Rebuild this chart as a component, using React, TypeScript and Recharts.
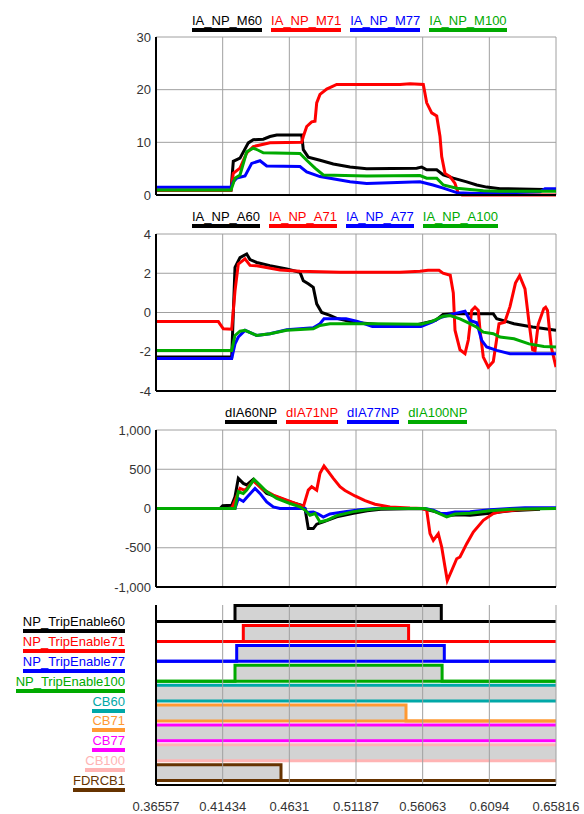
import { LineChart, Line, XAxis, YAxis, AreaChart, Area, ReferenceLine } from 'recharts';

const FONT = "'Liberation Sans', Arial, sans-serif";

// time axis shared by every panel
const X_TICKS = [0.36557, 0.41434, 0.4631, 0.51187, 0.56063, 0.6094, 0.65816];
const X_DOMAIN = [0.36557, 0.65816];

type Pt = [number, number];

// panel 1 - magnitudes
const IA_NP_M60: Pt[] = [[0.36557, 0.9], [0.42043, 0.9], [0.42211, 6.4], [0.42701, 7.0], [0.43309, 9.9], [0.43674, 10.5], [0.44406, 10.6], [0.44896, 11.1], [0.45386, 11.4], [0.47215, 11.4], [0.47332, 8.6], [0.47697, 7.2], [0.48553, 6.6], [0.49526, 5.9], [0.50748, 5.3], [0.51969, 5.0], [0.55627, 5.1], [0.55992, 5.3], [0.56358, 4.8], [0.5709, 4.8], [0.57573, 3.8], [0.58304, 3.2], [0.59284, 2.5], [0.60016, 1.9], [0.60747, 1.5], [0.6172, 1.2], [0.65816, 1.0]];
const IA_NP_M71: Pt[] = [[0.36557, 0.9], [0.42043, 0.9], [0.42211, 4.1], [0.42701, 5.1], [0.43192, 8.0], [0.43674, 9.2], [0.44896, 9.9], [0.47215, 10.0], [0.47332, 11.1], [0.4758, 13.0], [0.47946, 13.9], [0.48188, 14.0], [0.48312, 17.5], [0.48553, 19.1], [0.49043, 20.1], [0.49775, 21.0], [0.54405, 21.0], [0.55137, 21.1], [0.5611, 21.0], [0.56358, 17.5], [0.56724, 15.6], [0.5709, 15.0], [0.57331, 11.1], [0.57455, 7.3], [0.57697, 4.1], [0.58063, 3.5], [0.58428, 2.2], [0.5867, 0.3], [0.5894, 0], [0.65816, 0]];
const IA_NP_M77: Pt[] = [[0.36557, 1.47], [0.42043, 1.47], [0.42211, 2.5], [0.4246, 3.2], [0.43067, 3.6], [0.43557, 6.0], [0.44164, 6.5], [0.44655, 5.5], [0.4709, 5.4], [0.4758, 4.4], [0.48553, 3.5], [0.50748, 2.5], [0.51969, 2.2], [0.55868, 2.5], [0.56819, 1.9], [0.57573, 1.3], [0.58553, 0.45], [0.6, 0.3], [0.6172, 0.4], [0.64646, 0.6], [0.65012, 1.2], [0.65816, 1.2]];
const IA_NP_M100: Pt[] = [[0.36557, 0.96], [0.42043, 0.96], [0.42336, 3.2], [0.42701, 3.8], [0.43192, 8.2], [0.43674, 8.9], [0.4404, 8.5], [0.44406, 8.0], [0.4709, 7.9], [0.4758, 6.6], [0.48188, 5.1], [0.48795, 3.8], [0.51969, 3.6], [0.55868, 3.7], [0.56358, 3.2], [0.5709, 3.2], [0.57573, 1.9], [0.58553, 1.3], [0.60498, 0.8], [0.6172, 0.7], [0.65816, 0.7]];

// panel 2 - angles
const IA_NP_A60: Pt[] = [[0.36557, -2.27], [0.42094, -2.27], [0.42336, 2.3], [0.42701, 2.8], [0.43192, 2.98], [0.43433, 2.7], [0.43923, 2.55], [0.44896, 2.39], [0.46118, 2.22], [0.4709, 2.05], [0.47332, 1.62], [0.47697, 1.46], [0.48063, 1.28], [0.48312, 0.44], [0.48678, 0.0], [0.49285, -0.15], [0.49775, -0.3], [0.51, -0.5], [0.53, -0.62], [0.555, -0.65], [0.57, -0.4], [0.5755, -0.1], [0.58304, -0.07], [0.6123, -0.07], [0.61478, -0.32], [0.62744, -0.57], [0.64105, -0.74], [0.65816, -0.91]];
const IA_NP_A71: Pt[] = [[0.36557, -0.46], [0.41114, -0.46], [0.4148, -0.83], [0.42094, -0.85], [0.42336, 1.1], [0.42577, 2.47], [0.43067, 2.73], [0.43433, 2.4], [0.43923, 2.38], [0.45627, 2.17], [0.4709, 2.1], [0.50016, 2.05], [0.54405, 2.05], [0.55868, 2.1], [0.56453, 2.15], [0.57258, 2.15], [0.5755, 2.0], [0.5808, 1.9], [0.58304, 1.0], [0.58428, -0.9], [0.58794, -1.9], [0.5916, -2.1], [0.59401, -1.4], [0.5965, 0.1], [0.59891, 0.27], [0.60133, 0.1], [0.60257, -0.9], [0.60498, -2.27], [0.60864, -2.78], [0.6123, -2.5], [0.61647, -0.57], [0.62064, -0.5], [0.6245, 0.3], [0.6285, 1.5], [0.63154, 1.88], [0.63549, 1.2], [0.63841, -0.5], [0.64105, -1.9], [0.6428, -1.95], [0.64514, -0.6], [0.64924, 0.2], [0.65056, 0.27], [0.65195, 0.1], [0.65465, -1.76], [0.65816, -2.78]];
const IA_NP_A77: Pt[] = [[0.36557, -2.35], [0.42094, -2.35], [0.42336, -1.6], [0.42577, -1.25], [0.43067, -0.91], [0.43923, -1.17], [0.44896, -1.08], [0.46118, -0.88], [0.4709, -0.83], [0.48063, -0.78], [0.48553, -0.57], [0.48846, -0.32], [0.50456, -0.32], [0.51296, -0.45], [0.52386, -0.71], [0.55941, -0.71], [0.56746, -0.49], [0.57426, -0.24], [0.58304, -0.07], [0.5916, 0.07], [0.59525, -0.41], [0.60016, -0.52], [0.60381, -1.42], [0.60747, -1.76], [0.61478, -1.93], [0.62451, -2.1], [0.65816, -2.1]];
const IA_NP_A100: Pt[] = [[0.36557, -1.93], [0.42094, -1.93], [0.42336, -1.17], [0.42701, -0.95], [0.43067, -0.91], [0.43923, -1.17], [0.44896, -1.08], [0.46118, -0.91], [0.48063, -0.83], [0.48553, -0.66], [0.49285, -0.57], [0.52386, -0.57], [0.55941, -0.6], [0.56746, -0.45], [0.5755, -0.19], [0.58063, -0.16], [0.58794, -0.32], [0.59525, -0.57], [0.60016, -0.75], [0.60498, -1.0], [0.6123, -1.08], [0.6172, -1.25], [0.62744, -1.34], [0.63841, -1.6], [0.64924, -1.73], [0.65816, -1.76]];

// panel 3 - delta currents
const dIA60NP: Pt[] = [[0.36557, 0], [0.41238, 0], [0.41434, 35], [0.42094, 40], [0.42336, 150], [0.42577, 384], [0.42943, 320], [0.43192, 300], [0.43674, 371], [0.44164, 277], [0.44655, 192], [0.45386, 149], [0.46359, 85], [0.47215, 40], [0.47456, 0], [0.47697, -256], [0.48063, -256], [0.48312, -200], [0.48795, -171], [0.49775, -107], [0.51, -60], [0.52, -30], [0.53, -10], [0.56014, 0], [0.56965, -40], [0.57821, -90], [0.58794, -80], [0.59525, -85], [0.60988, -60], [0.62451, -30], [0.64646, -10]];
const dIA71NP: Pt[] = [[0.36557, 0], [0.42094, 0], [0.42336, 100], [0.42701, 256], [0.43067, 230], [0.43674, 353], [0.44406, 240], [0.45137, 170], [0.46118, 106], [0.4709, 42], [0.47332, 20], [0.47697, 234], [0.47946, 277], [0.48312, 234], [0.48553, 448], [0.48846, 541], [0.4916, 469], [0.49526, 384], [0.50016, 277], [0.50382, 230], [0.51113, 160], [0.51845, 100], [0.52577, 55], [0.53674, 20], [0.55137, 5], [0.56014, 0], [0.56358, -21], [0.566, -320], [0.56841, -405], [0.57207, -320], [0.57455, -490], [0.57697, -745], [0.57865, -917], [0.58187, -790], [0.58553, -640], [0.58794, -618], [0.59284, -448], [0.59767, -300], [0.60498, -150], [0.6123, -64], [0.6172, -43], [0.63, -15], [0.64646, 0]];
const dIA77NP: Pt[] = [[0.36557, 0], [0.42336, 0], [0.42577, 128], [0.42943, 90], [0.43192, 141], [0.43799, 256], [0.44164, 192], [0.44655, 85], [0.45137, 20], [0.45627, 0], [0.47456, 0], [0.4758, -50], [0.48063, -45], [0.48429, -70], [0.48795, -110], [0.49285, -70], [0.50382, -40], [0.51479, -15], [0.52577, 0], [0.56234, 0], [0.56841, -20], [0.57331, -60], [0.57821, -64], [0.58428, -45], [0.59525, -40], [0.60988, -15], [0.62451, 0], [0.63549, 10], [0.65816, 10]];
const dIA100NP: Pt[] = [[0.36557, 0], [0.42336, 0], [0.42577, 213], [0.42943, 192], [0.43192, 235], [0.43726, 371], [0.44164, 298], [0.44655, 213], [0.45386, 128], [0.46359, 64], [0.4709, 20], [0.47456, -20], [0.47822, -86], [0.48188, -64], [0.48553, -171], [0.49043, -150], [0.49775, -90], [0.51, -40], [0.52, -15], [0.53, 0], [0.56234, 0], [0.56841, -30], [0.57821, -107], [0.58428, -70], [0.59525, -60], [0.60988, -30], [0.62451, -10], [0.65816, 0]];

// digital signals (state changes)
const DIG_T = [0.36557, 0.42336, 0.4246, 0.42943, 0.457, 0.54844, 0.55034, 0.57426, 0.57485, 0.57646, 0.65816];
const NP_TripEnable60 = [0, 1, 1, 1, 1, 1, 1, 0, 0, 0, 0];
const NP_TripEnable71 = [0, 0, 0, 1, 1, 1, 0, 0, 0, 0, 0];
const NP_TripEnable77 = [0, 0, 1, 1, 1, 1, 1, 1, 1, 0, 0];
const NP_TripEnable100 = [0, 1, 1, 1, 1, 1, 1, 1, 0, 0, 0];
const CB60 = [1, 1, 1, 1, 1, 1, 1, 1, 1, 1, 1];
const CB71 = [1, 1, 1, 1, 1, 0, 0, 0, 0, 0, 0];
const CB77 = [1, 1, 1, 1, 1, 1, 1, 1, 1, 1, 1];
const CB100 = [1, 1, 1, 1, 1, 1, 1, 1, 1, 1, 1];
const FDRCB1 = [1, 1, 1, 1, 0, 0, 0, 0, 0, 0, 0];

const BLACK = '#000000';
const RED = '#ff0000';
const BLUE = '#0000ff';
const GREEN = '#00aa00';
const GRID = '#a0a0a0';

interface Series { name: string; color: string; pts: Pt[] }

const panels = [
  {
    top: 0, height: 210, mTop: 37, mBottom: 15, legendTop: 14, legendLeft: 192,
    yTicks: [0, 10, 20, 30],
    series: [
      { name: 'IA_NP_M60', color: BLACK, pts: IA_NP_M60 },
      { name: 'IA_NP_M71', color: RED, pts: IA_NP_M71 },
      { name: 'IA_NP_M77', color: BLUE, pts: IA_NP_M77 },
      { name: 'IA_NP_M100', color: GREEN, pts: IA_NP_M100 },
    ] as Series[],
  },
  {
    top: 200, height: 205, mTop: 34, mBottom: 14, legendTop: 210, legendLeft: 192,
    yTicks: [-4, -2, 0, 2, 4],
    series: [
      { name: 'IA_NP_A60', color: BLACK, pts: IA_NP_A60 },
      { name: 'IA_NP_A71', color: RED, pts: IA_NP_A71 },
      { name: 'IA_NP_A77', color: BLUE, pts: IA_NP_A77 },
      { name: 'IA_NP_A100', color: GREEN, pts: IA_NP_A100 },
    ] as Series[],
  },
  {
    top: 400, height: 200, mTop: 30, mBottom: 13, legendTop: 406, legendLeft: 225,
    yTicks: [-1000, -500, 0, 500, 1000],
    series: [
      { name: 'dIA60NP', color: BLACK, pts: dIA60NP },
      { name: 'dIA71NP', color: RED, pts: dIA71NP },
      { name: 'dIA77NP', color: BLUE, pts: dIA77NP },
      { name: 'dIA100NP', color: GREEN, pts: dIA100NP },
    ] as Series[],
  },
];

const digital = [
  { name: 'NP_TripEnable60', color: BLACK, v: NP_TripEnable60 },
  { name: 'NP_TripEnable71', color: RED, v: NP_TripEnable71 },
  { name: 'NP_TripEnable77', color: BLUE, v: NP_TripEnable77 },
  { name: 'NP_TripEnable100', color: GREEN, v: NP_TripEnable100 },
  { name: 'CB60', color: '#00a8a8', v: CB60 },
  { name: 'CB71', color: '#ff9933', v: CB71 },
  { name: 'CB77', color: '#ff00ff', v: CB77 },
  { name: 'CB100', color: '#ffb4b4', v: CB100 },
  { name: 'FDRCB1', color: '#663300', v: FDRCB1 },
];

const digitalRows = DIG_T.map((t, i) => {
  const row: Record<string, number> = { t };
  digital.forEach((s) => { row[s.name] = s.v[i]; });
  return row;
});

const toRows = (pts: Pt[]) => pts.map(([t, v]) => ({ t, v }));
const fmtNum = (v: number) => v.toLocaleString('en-US');

// digital panel geometry
const D_TOP = 605;
const D_BOTTOM = 785;
const D_MAX = 9.05;
const rowBase = (i: number) => 0.22 + (digital.length - 1 - i);
const rowPx = (val: number) => D_TOP + (D_MAX - val) * ((D_BOTTOM - D_TOP) / D_MAX);

const tickStyle = { fill: '#333', fontSize: 13, fontFamily: FONT };

function Legend({ top, left, series }: { top: number; left: number; series: Series[] }) {
  return (
    <div style={{ position: 'absolute', top, left, display: 'flex', gap: 9 }}>
      {series.map((s) => (
        <span
          key={s.name}
          style={{
            color: s.color, fontSize: 13, lineHeight: '13px', fontFamily: FONT,
            borderBottom: `4px solid ${s.color}`, paddingBottom: 1,
          }}
        >
          {s.name}
        </span>
      ))}
    </div>
  );
}

export default function App() {
  return (
    <div style={{ position: 'fixed', left: 0, top: 0, width: 584, height: 814, background: '#fff' }}>
      {panels.map((p, pi) => {
        const yMin = p.yTicks[0];
        const yMax = p.yTicks[p.yTicks.length - 1];
        return (
          <div key={pi}>
            <div style={{ position: 'absolute', left: 0, top: p.top }}>
              <LineChart width={584} height={p.height} margin={{ top: p.mTop, right: 28, bottom: p.mBottom, left: 0 }}>
                <XAxis type="number" dataKey="t" domain={X_DOMAIN} ticks={X_TICKS} allowDataOverflow hide />
                <YAxis
                  type="number" domain={[yMin, yMax]} ticks={p.yTicks} interval={0}
                  width={156} tickLine={false} tickSize={0} tickMargin={5}
                  axisLine={{ stroke: '#000', strokeWidth: 2 }} tick={tickStyle} tickFormatter={fmtNum}
                />
                {p.yTicks.slice(1).map((v) => (
                  <ReferenceLine key={'h' + v} y={v} stroke={GRID} strokeWidth={1} />
                ))}
                {X_TICKS.slice(1).map((t) => (
                  <ReferenceLine key={'v' + t} x={t} stroke={GRID} strokeWidth={1} />
                ))}
                {p.series.map((s) => (
                  <Line
                    key={s.name} data={toRows(s.pts)} dataKey="v" name={s.name} type="linear"
                    stroke={s.color} strokeWidth={3} dot={false} isAnimationActive={false}
                  />
                ))}
                <ReferenceLine y={yMin} stroke="#000" strokeWidth={2} />
                <ReferenceLine x={X_DOMAIN[0]} stroke="#000" strokeWidth={2} />
              </LineChart>
            </div>
            <Legend top={p.legendTop} left={p.legendLeft} series={p.series} />
          </div>
        );
      })}

      <div style={{ position: 'absolute', left: 0, top: 595 }}>
        <AreaChart width={584} height={219} data={digitalRows} margin={{ top: 10, right: 28, bottom: 0, left: 0 }}>
          <XAxis
            type="number" dataKey="t" domain={X_DOMAIN} ticks={X_TICKS} height={29} interval={0}
            tickLine={false} tickSize={0} tickMargin={17}
            axisLine={{ stroke: '#000', strokeWidth: 2 }} tick={tickStyle}
          />
          <YAxis type="number" domain={[0, D_MAX]} width={156} tick={false} tickLine={false} axisLine={{ stroke: '#000', strokeWidth: 2 }} />
          {digital.map((s, i) => (
            <Area
              key={s.name}
              type="stepAfter"
              dataKey={(d: Record<string, number>) => [rowBase(i), rowBase(i) + d[s.name] * 0.8]}
              stroke={s.color}
              strokeWidth={3}
              fill="#d3d3d3"
              fillOpacity={1}
              isAnimationActive={false}
            />
          ))}
          {X_TICKS.slice(1).map((t) => (
            <ReferenceLine key={t} x={t} stroke={GRID} strokeWidth={1} />
          ))}
          <ReferenceLine x={X_DOMAIN[0]} stroke="#000" strokeWidth={2} />
        </AreaChart>
      </div>

      {digital.map((s, i) => (
        <div
          key={s.name}
          style={{ position: 'absolute', left: 0, width: 125, top: rowPx(rowBase(i)) - 9.5, textAlign: 'right' }}
        >
          <span
            style={{
              color: s.color, fontSize: 13, lineHeight: '13px', fontFamily: FONT,
              borderBottom: `4px solid ${s.color}`, paddingBottom: 1, display: 'inline-block',
            }}
          >
            {s.name}
          </span>
        </div>
      ))}
    </div>
  );
}
